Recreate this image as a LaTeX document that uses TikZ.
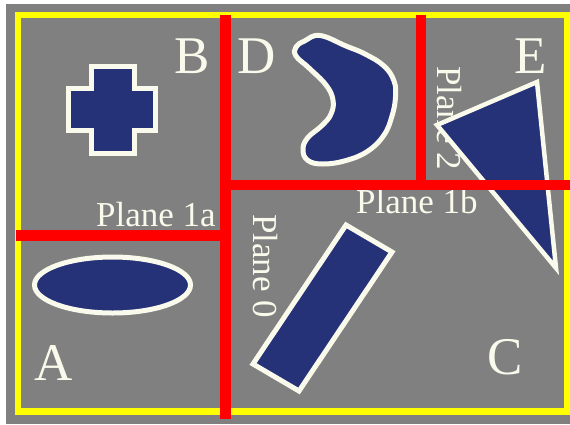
\documentclass[tikz,border=0pt]{standalone}
\usepackage{fontspec}
\setmainfont{Liberation Serif}
\usepackage{xcolor}
\usepackage{tikz}
\usetikzlibrary{positioning}
\definecolor{bggray}{RGB}{128,128,128}
\definecolor{bordyellow}{RGB}{255,255,0}
\definecolor{planered}{RGB}{255,0,0}
\definecolor{shapenavy}{RGB}{37,50,120}
\definecolor{outlinecream}{RGB}{250,250,236}

\begin{document}
\begin{tikzpicture}[
    x=1pt,
    y=-1pt,
    region/.style={
        inner sep=0pt,
        anchor=base west,
        text=outlinecream,
        font=\fontsize{53}{53}\selectfont
    },
    planelabel/.style={
        inner sep=0pt,
        anchor=base west,
        text=outlinecream,
        font=\fontsize{35}{35}\selectfont
    },
    object/.style={
        draw=outlinecream,
        fill=shapenavy,
        line width=5pt,
        line join=miter
    },
    plane/.style={
        draw=planered,
        line width=10.5pt
    },
    border/.style={
        draw=bordyellow,
        line width=6.5pt
    }
]

\useasboundingbox (0,0) rectangle (570,424);
\fill[white] (0,0) rectangle (570,424);
\fill[bggray] (6,4) rectangle (570,424);
\draw[border] (18,15) rectangle (567,411.5);

\node[region] (labelB) at (174,73) {B};
\node[region] (labelD) at (237,73) {D};
\node[region] (labelE) at (514,73) {E};
\node[region] (labelA) at (34,380) {A};
\node[region] (labelC) at (487,374) {C};

\node[planelabel] (planeOneA) at (96,226) {Plane 1a};
\node[planelabel] (planeOneB) at (356,213) {Plane 1b};
\node[planelabel, rotate=-90] (planeZero) at (253,214) {Plane 0};
\node[planelabel, rotate=-90] (planeTwo) at (437,66) {Plane 2};

\draw[object] (91.5,66.5) -- (134,66.5) -- (134,88) -- (155,88) -- (155,130)
    -- (134,130) -- (134,153.5) -- (91.5,153.5) -- (91.5,130) -- (68.5,130)
    -- (68.5,88) -- (91.5,88) -- cycle;

\draw[object] (112.5,285) ellipse [x radius=78pt, y radius=28pt];

\draw[object] (346,225) -- (392,252) -- (299,391) -- (253,364) -- cycle;

\draw[object, line width=4.5pt] (537,82) -- (437,125) -- (556,268) -- cycle;

\draw[object] plot[smooth cycle, tension=0.7] coordinates {
    (320,35.5) (346,46) (365,54) (384,66) (394,81) (395.5,97) (392,116)
    (384,135) (368,151) (346,160.5) (323,164) (308,160.5) (303,150)
    (307.5,138) (322,125.5) (331,114) (333,100) (326,85) (309,68)
    (296,56) (296,47) (304.5,41)};

\draw[plane] (225.5,15) -- (225.5,419);
\draw[plane] (16,235.5) -- (225.5,235.5);
\draw[plane] (225.5,185) -- (570,185);
\draw[plane] (421,15) -- (421,185);

\end{tikzpicture}
\end{document}
